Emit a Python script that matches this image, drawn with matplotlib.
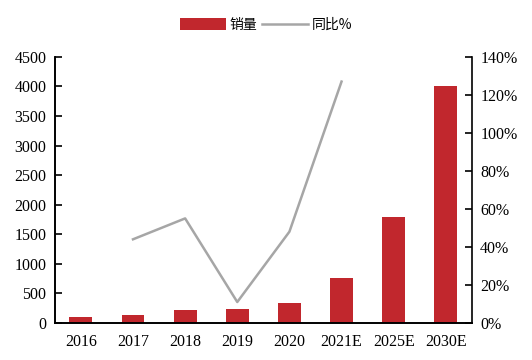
import matplotlib.pyplot as plt
from matplotlib.ticker import FuncFormatter

plt.rcParams['font.family'] = ['Liberation Serif', 'Noto Sans CJK SC']

years = ['2016', '2017', '2018', '2019', '2020', '2021E', '2025E', '2030E']
sales = [100, 140, 215, 230, 340, 760, 1800, 4000]
yoy_years = ['2017', '2018', '2019', '2020', '2021E']
yoy = [44, 55, 11, 48, 127]

bar_color = '#C1272D'
line_color = '#A6A6A6'

fig = plt.figure(figsize=(5.32, 3.6), dpi=100)
ax = fig.add_axes([0.103, 0.103, 0.784, 0.739])
ax2 = ax.twinx()

x = list(range(len(years)))
bars = ax.bar(x, sales, width=0.44, color=bar_color, label='销量', zorder=2)
xi = [years.index(y) for y in yoy_years]
line, = ax2.plot(xi, yoy, color=line_color, lw=1.8, label='同比%')

ax.set_xlim(-0.5, len(years) - 0.5)
ax.set_ylim(0, 4500)
ax.set_yticks(range(0, 4501, 500))
ax2.set_ylim(0, 140)
ax2.set_yticks(range(0, 141, 20))
ax2.yaxis.set_major_formatter(FuncFormatter(lambda v, p: f'{v:.0f}%'))

ax.set_xticks(x)
ax.set_xticklabels(years)

for a in (ax, ax2):
    a.spines['top'].set_visible(False)
    for s in a.spines.values():
        s.set_linewidth(1.2)
    a.tick_params(labelsize=11.5, direction='in', width=1.2, length=5)
ax.tick_params(axis='x', length=0, pad=8)
ax.tick_params(axis='y', pad=6)
ax2.tick_params(axis='y', pad=6)
ax.spines['right'].set_visible(False)

fig.legend(handles=[bars, line], labels=['销量', '同比%'], loc='upper center',
           bbox_to_anchor=(0.5, 0.985), ncol=2, frameon=False,
           handlelength=3.3, handleheight=0.9, columnspacing=0.3, handletextpad=0.3,
           prop={'family': ['Noto Sans CJK SC'], 'size': 10})

fig.savefig('out.png', dpi=100)
